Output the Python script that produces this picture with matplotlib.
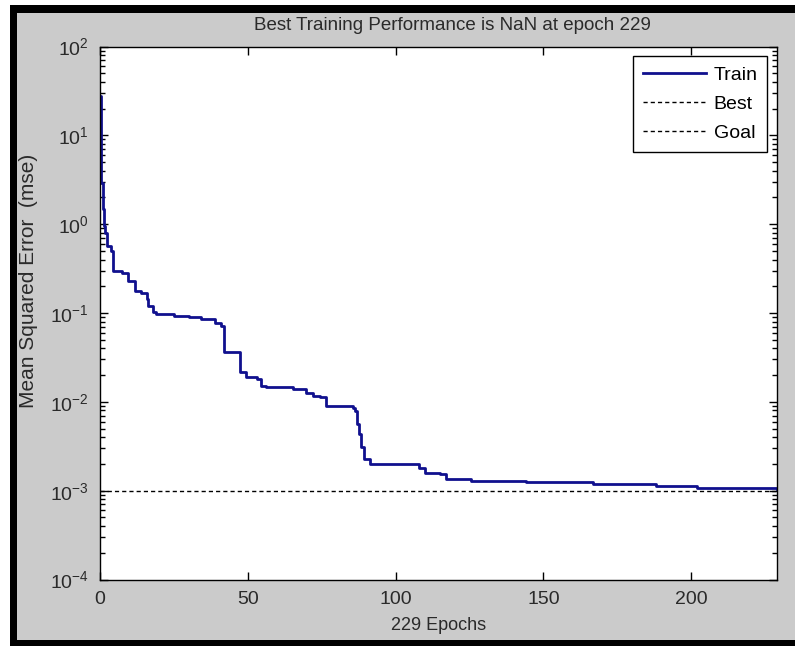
import matplotlib
matplotlib.use("Agg")
import matplotlib.pyplot as plt
from matplotlib.patches import Rectangle
from matplotlib.ticker import LogLocator, FixedLocator, NullFormatter
import numpy as np

# training curve (epoch where each level starts, mse)
epochs = [0, 0.3, 1, 1.2, 1.7, 2.3, 3.6, 4.3, 7.3, 9.6, 11.8, 14, 15.8, 16.3,
          17.9, 19, 25, 30, 34, 39, 41, 42, 46.7, 47.3, 49.5, 53, 54.6, 56.3,
          65.3, 69.8, 72, 74.3, 76.6, 85.6, 86.3, 87, 87.7, 88.2, 89.3, 91.2,
          107, 108, 110, 115, 117, 125.6, 144, 166.7, 188, 202, 229]
mse = [28, 2.9, 1.5, 0.96, 0.8, 0.57, 0.5, 0.30, 0.28, 0.23, 0.178, 0.17,
       0.145, 0.121, 0.102, 0.098, 0.093, 0.089, 0.085, 0.078, 0.072, 0.036,
       0.036, 0.0214, 0.0191, 0.018, 0.0152, 0.0145, 0.0139, 0.0127, 0.0117,
       0.0112, 0.009, 0.0086, 0.0079, 0.0056, 0.0043, 0.0031, 0.00226, 0.002,
       0.002, 0.0018, 0.0016, 0.00153, 0.00135, 0.00129, 0.00125, 0.0012,
       0.00113, 0.00106, 0.00105]
goal = 1e-3
best_epoch = 229
x_ticks = [0, 50, 100, 150, 200]

plt.rcParams["font.family"] = ["Liberation Sans", "DejaVu Sans"]
plt.rcParams["mathtext.fontset"] = "custom"
plt.rcParams["mathtext.rm"] = "Liberation Sans"
plt.rcParams["mathtext.it"] = "Liberation Sans"

W, H = 795, 646
fig = plt.figure(figsize=(W / 100, H / 100), dpi=100, facecolor="white")

# black frame and grey MATLAB-style window
fig.patches.append(Rectangle((10 / W, 0), 785 / W, 641 / H, transform=fig.transFigure,
                             facecolor="black", edgecolor="none", zorder=-2))
fig.patches.append(Rectangle((17 / W, 6 / H), 778 / W, 627 / H, transform=fig.transFigure,
                             facecolor="#cbcbcb", edgecolor="none", zorder=-1))

ax = fig.add_axes([100 / W, (H - 579.5) / H, 677 / W, 533 / H])
ax.set_facecolor("white")

ax.plot(epochs, mse, drawstyle="steps-post", color="#10108e", lw=2, label="Train")
ax.plot([], [], color="black", lw=1, ls=(0, (3, 2.2)), label="Best")
ax.axhline(goal, color="black", lw=1, ls=(0, (3, 2.2)), label="Goal")

ax.set_yscale("log")
ax.set_xlim(0, best_epoch)
ax.set_ylim(1e-4, 1e2)
ax.xaxis.set_major_locator(FixedLocator(x_ticks))
ax.yaxis.set_major_locator(LogLocator(base=10, numticks=10))
ax.yaxis.set_minor_locator(LogLocator(base=10, subs=np.arange(2, 10), numticks=20))
ax.yaxis.set_minor_formatter(NullFormatter())

ax.tick_params(which="both", direction="in", top=True, right=True,
               labelsize=14, colors="black", labelcolor="#2a2a2a")
ax.tick_params(which="major", length=6, width=1, pad=8)
ax.tick_params(which="minor", length=3.5, width=1)
for s in ax.spines.values():
    s.set_linewidth(1)
    s.set_color("black")

ax.set_title("Best Training Performance is NaN at epoch 229", fontsize=13.5,
             color="#2a2a2a", pad=12, x=0.52)
ax.set_xlabel("229 Epochs", fontsize=13, color="#2a2a2a", labelpad=7)
ax.set_ylabel("Mean Squared Error  (mse)", fontsize=15, color="#2a2a2a")
ax.yaxis.set_label_coords(-0.0916, 0.56)

leg = ax.legend(loc="upper right", fontsize=14, frameon=True, fancybox=False,
                edgecolor="black", framealpha=1, handlelength=3.25,
                handletextpad=0.4, labelspacing=0.6, borderaxespad=0.5,
                borderpad=0.5)
leg.get_frame().set_linewidth(1)

fig.savefig("out.png", dpi=100, facecolor=fig.get_facecolor())
